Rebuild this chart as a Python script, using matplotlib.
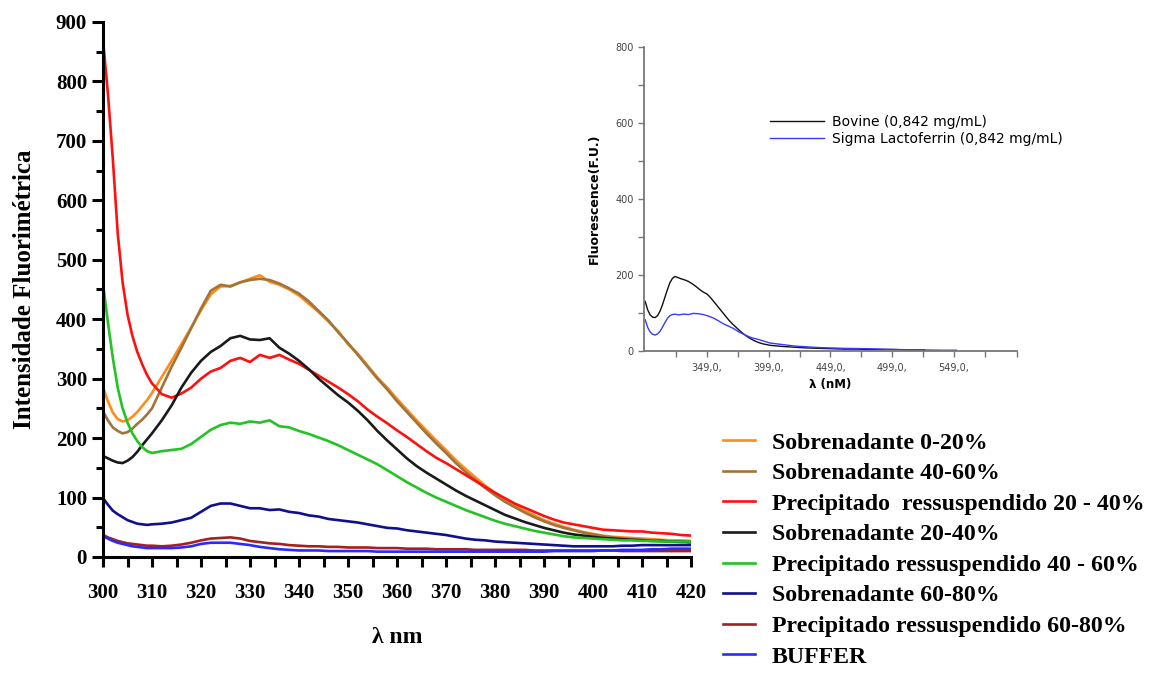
import matplotlib
matplotlib.use('Agg')
import matplotlib.pyplot as plt
from matplotlib.ticker import MultipleLocator, FixedLocator


# wavelength grid of the main spectra (nm)
wl = [300, 301, 302, 303, 304, 305, 306, 307, 308, 309, 310,
      312, 314, 316, 318, 320, 322, 324, 326, 328, 330,
      332, 334, 336, 338, 340, 342, 344, 346, 348, 350,
      352, 354, 356, 358, 360, 362, 364, 366, 368, 370,
      372, 374, 376, 378, 380, 382, 384, 386, 388, 390,
      392, 394, 396, 398, 400, 402, 404, 406, 408, 410,
      412, 414, 416, 418, 420]

# Sobrenadante 0-20%
sob_0_20 = [285, 262, 243, 232, 228, 230, 236, 244, 254, 264, 276,
            303, 330, 358, 386, 415, 442, 455, 456, 462, 468,
            474, 463, 458, 450, 440, 426, 412, 396, 380, 358,
            342, 322, 302, 285, 266, 248, 230, 213, 196, 180,
            163, 148, 134, 120, 108, 97, 87, 78, 70, 62,
            56, 51, 46, 42, 39, 36, 34, 33, 32, 31,
            30, 29, 28, 28, 27]

# Sobrenadante 40-60%
sob_40_60 = [245, 230, 218, 212, 208, 210, 216, 224, 231, 240, 250,
             285, 320, 352, 385, 418, 448, 458, 455, 462, 466,
             468, 466, 460, 452, 443, 430, 414, 398, 378, 360,
             340, 320, 300, 282, 262, 244, 226, 208, 191, 175,
             158, 143, 129, 116, 104, 93, 84, 75, 67, 60,
             54, 49, 45, 41, 38, 35, 33, 31, 30, 29,
             28, 27, 26, 25, 25]

# Precipitado ressuspendido 20-40%
prec_20_40 = [870, 780, 670, 545, 462, 408, 372, 345, 324, 306, 292,
              274, 268, 275, 285, 300, 312, 318, 330, 335, 328,
              340, 335, 340, 332, 325, 315, 305, 295, 285, 274,
              262, 248, 236, 225, 213, 202, 190, 178, 167, 158,
              148, 138, 128, 118, 108, 99, 90, 83, 76, 69,
              63, 58, 55, 52, 49, 46, 45, 44, 43, 43,
              41, 40, 39, 37, 36]

# Sobrenadante 20-40%
sob_20_40 = [170, 166, 162, 159, 158, 162, 168, 177, 188, 198, 208,
             230, 255, 285, 310, 330, 345, 355, 368, 372, 366,
             365, 368, 352, 342, 330, 316, 300, 286, 272, 260,
             246, 230, 212, 196, 181, 166, 153, 142, 132, 122,
             112, 103, 95, 87, 79, 71, 65, 59, 54, 49,
             45, 41, 38, 36, 34, 32, 31, 30, 29, 28,
             27, 27, 26, 26, 25]

# Precipitado ressuspendido 40-60%
prec_40_60 = [460, 395, 335, 285, 250, 226, 208, 195, 185, 178, 175,
              178, 180, 182, 190, 202, 214, 222, 226, 224, 228,
              226, 230, 220, 218, 212, 207, 201, 195, 188, 180,
              172, 164, 156, 146, 136, 126, 117, 108, 100, 93,
              86, 79, 73, 67, 61, 56, 52, 48, 44, 41,
              38, 35, 33, 32, 31, 30, 29, 28, 28, 27,
              27, 26, 26, 26, 26]

# Sobrenadante 60-80%
sob_60_80 = [99, 88, 78, 72, 67, 62, 59, 56, 55, 54, 55,
             56, 58, 62, 66, 76, 86, 90, 90, 86, 82,
             82, 79, 80, 76, 74, 70, 68, 64, 62, 60,
             58, 55, 52, 49, 48, 45, 43, 41, 39, 37,
             34, 31, 29, 28, 26, 25, 24, 23, 22, 21,
             20, 19, 18, 18, 18, 18, 18, 19, 19, 20,
             20, 20, 20, 20, 20]

# Precipitado ressuspendido 60-80%
prec_60_80 = [37, 33, 30, 27, 25, 23, 22, 21, 20, 19, 19,
              18, 19, 21, 24, 28, 31, 32, 33, 31, 27,
              25, 23, 22, 20, 19, 18, 18, 17, 17, 16,
              16, 16, 15, 15, 15, 14, 14, 14, 13, 13,
              13, 13, 12, 12, 12, 12, 12, 12, 11, 11,
              11, 11, 11, 11, 11, 11, 11, 10, 10, 10,
              10, 10, 10, 10, 10]

# BUFFER
buffer = [35, 31, 27, 24, 22, 20, 18, 17, 16, 15, 15,
          15, 15, 16, 18, 22, 24, 24, 24, 22, 20,
          17, 15, 13, 12, 11, 11, 11, 10, 10, 10,
          10, 10, 9, 9, 9, 9, 9, 9, 9, 9,
          9, 9, 9, 9, 9, 9, 9, 9, 9, 9,
          10, 10, 10, 10, 10, 11, 11, 12, 12, 12,
          13, 13, 14, 14, 14]

labels = ['Sobrenadante 0-20%',
          'Sobrenadante 40-60%',
          'Precipitado  ressuspendido 20 - 40%',
          'Sobrenadante 20-40%',
          'Precipitado ressuspendido 40 - 60%',
          'Sobrenadante 60-80%',
          'Precipitado ressuspendido 60-80%',
          'BUFFER']
series = [sob_0_20, sob_40_60, prec_20_40, sob_20_40,
          prec_40_60, sob_60_80, prec_60_80, buffer]
colors = ['#ff8c1a', '#a0743a', '#ff1010', '#1a1a1a',
          '#22c322', '#10108f', '#a52020', '#2a2aff']

# inset: bovine vs sigma lactoferrin
bov_wl = [299, 301, 303, 305, 307, 309, 311, 313, 315, 317, 319, 321, 323,
          325, 328, 331, 334, 337, 340, 343, 346, 349, 352, 355, 358, 361,
          364, 367, 370, 373, 376, 379, 382, 385, 388, 391, 394, 397, 400,
          410, 420, 430, 440, 450, 460, 470, 480, 490, 500, 510, 520, 525]
bovine = [130, 108, 95, 89, 88, 93, 105, 122, 142, 162, 180, 191, 196,
          194, 190, 187, 183, 177, 170, 162, 155, 150, 140, 128, 116, 104,
          92, 80, 70, 61, 52, 44, 37, 31, 26, 22, 19, 17, 15,
          12, 10, 8, 7, 6, 5, 5, 4, 4, 4, 3, 3, 3]
sig_wl = [299, 301, 303, 305, 307, 309, 311, 313, 315, 317, 319, 321, 323,
          326, 330, 334, 338, 342, 346, 350, 354, 358, 362, 366, 370, 375,
          380, 385, 390, 395, 400, 410, 420, 430, 440, 460, 480, 500, 520,
          540, 551]
sigma = [82, 62, 50, 44, 42, 45, 52, 63, 75, 86, 93, 96, 97,
         95, 97, 96, 99, 98, 96, 92, 87, 80, 72, 66, 60, 50,
         42, 35, 31, 26, 21, 17, 13, 11, 9, 7, 6, 4, 3,
         2, 2]

fig = plt.figure(figsize=(11.6, 6.75), dpi=100)

serif = ['Liberation Serif', 'DejaVu Serif']

ax = fig.add_axes([103 / 1160, 1 - 557 / 675, 588 / 1160, 535 / 675])
for y, lab, c in zip(series, labels, colors):
    ax.plot(wl, y, color=c, lw=1.9, label=lab)

ax.set_xlim(300, 420)
ax.set_ylim(0, 900)
ax.spines['top'].set_visible(False)
ax.spines['right'].set_visible(False)
for s in ['left', 'bottom']:
    ax.spines[s].set_linewidth(2.2)
ax.xaxis.set_major_locator(MultipleLocator(10))
ax.xaxis.set_minor_locator(MultipleLocator(5))
ax.yaxis.set_major_locator(MultipleLocator(100))
ax.yaxis.set_minor_locator(MultipleLocator(50))
ax.tick_params(which='major', direction='out', length=8, width=2.2)
ax.tick_params(which='minor', direction='out', length=5, width=2.2)
ax.tick_params(axis='x', which='major', length=7)
ax.tick_params(axis='x', which='minor', length=7)
ax.tick_params(axis='x', pad=12)
for t in ax.get_xticklabels() + ax.get_yticklabels():
    t.set_family(serif)
    t.set_fontweight('bold')
    t.set_fontsize(15)
ax.set_xlabel('λ nm', family=serif, fontweight='bold', fontsize=17, labelpad=17)
ax.set_ylabel('Intensidade Fluorimétrica', family=serif, fontweight='bold',
              fontsize=18, labelpad=14)

fig.legend(loc='upper left', bbox_to_anchor=(711 / 1160, 1 - 420 / 675),
           frameon=False, borderpad=0, handlelength=1.35, handletextpad=0.7,
           labelspacing=0.37,
           prop={'family': serif, 'weight': 'bold', 'size': 17.2})

# inset
grey = '#777777'
axi = fig.add_axes([644 / 1160, 1 - 351 / 675, 373 / 1160, 304 / 675])
axi.plot(bov_wl, bovine, color='#111111', lw=1.0,
         label='Bovine (0,842 mg/mL)')
axi.plot(sig_wl, sigma, color='#3a3aff', lw=1.0,
         label='Sigma Lactoferrin (0,842 mg/mL)')
axi.set_xlim(298, 600)
axi.set_ylim(0, 800)
axi.spines['top'].set_visible(False)
axi.spines['right'].set_visible(False)
for s in ['left', 'bottom']:
    axi.spines[s].set_color(grey)
    axi.spines[s].set_linewidth(1.3)
axi.xaxis.set_major_locator(FixedLocator([349, 399, 449, 499, 549]))
axi.xaxis.set_minor_locator(FixedLocator([324, 374, 424, 474, 524, 574, 600]))
axi.set_xticklabels(['349,0,', '399,0,', '449,0,', '499,0,', '549,0,'])
axi.yaxis.set_major_locator(MultipleLocator(200))
axi.yaxis.set_minor_locator(MultipleLocator(100))
axi.tick_params(which='both', colors=grey, labelcolor='#444444',
                labelsize=7, length=4, width=1)
axi.tick_params(axis='x', pad=5)
axi.set_xlabel('λ (nM)', fontsize=8.5, fontweight='bold', labelpad=3)
axi.set_ylabel('Fluorescence(F.U.)', fontsize=9, fontweight='bold', labelpad=10)
axi.legend(loc='upper left', bbox_to_anchor=(763 / 1160, 1 - 108 / 675),
           bbox_transform=fig.transFigure, frameon=False, borderpad=0,
           handlelength=3.9, handletextpad=0.6, labelspacing=0.2,
           fontsize=10)

fig.savefig('out.png', dpi=100)
